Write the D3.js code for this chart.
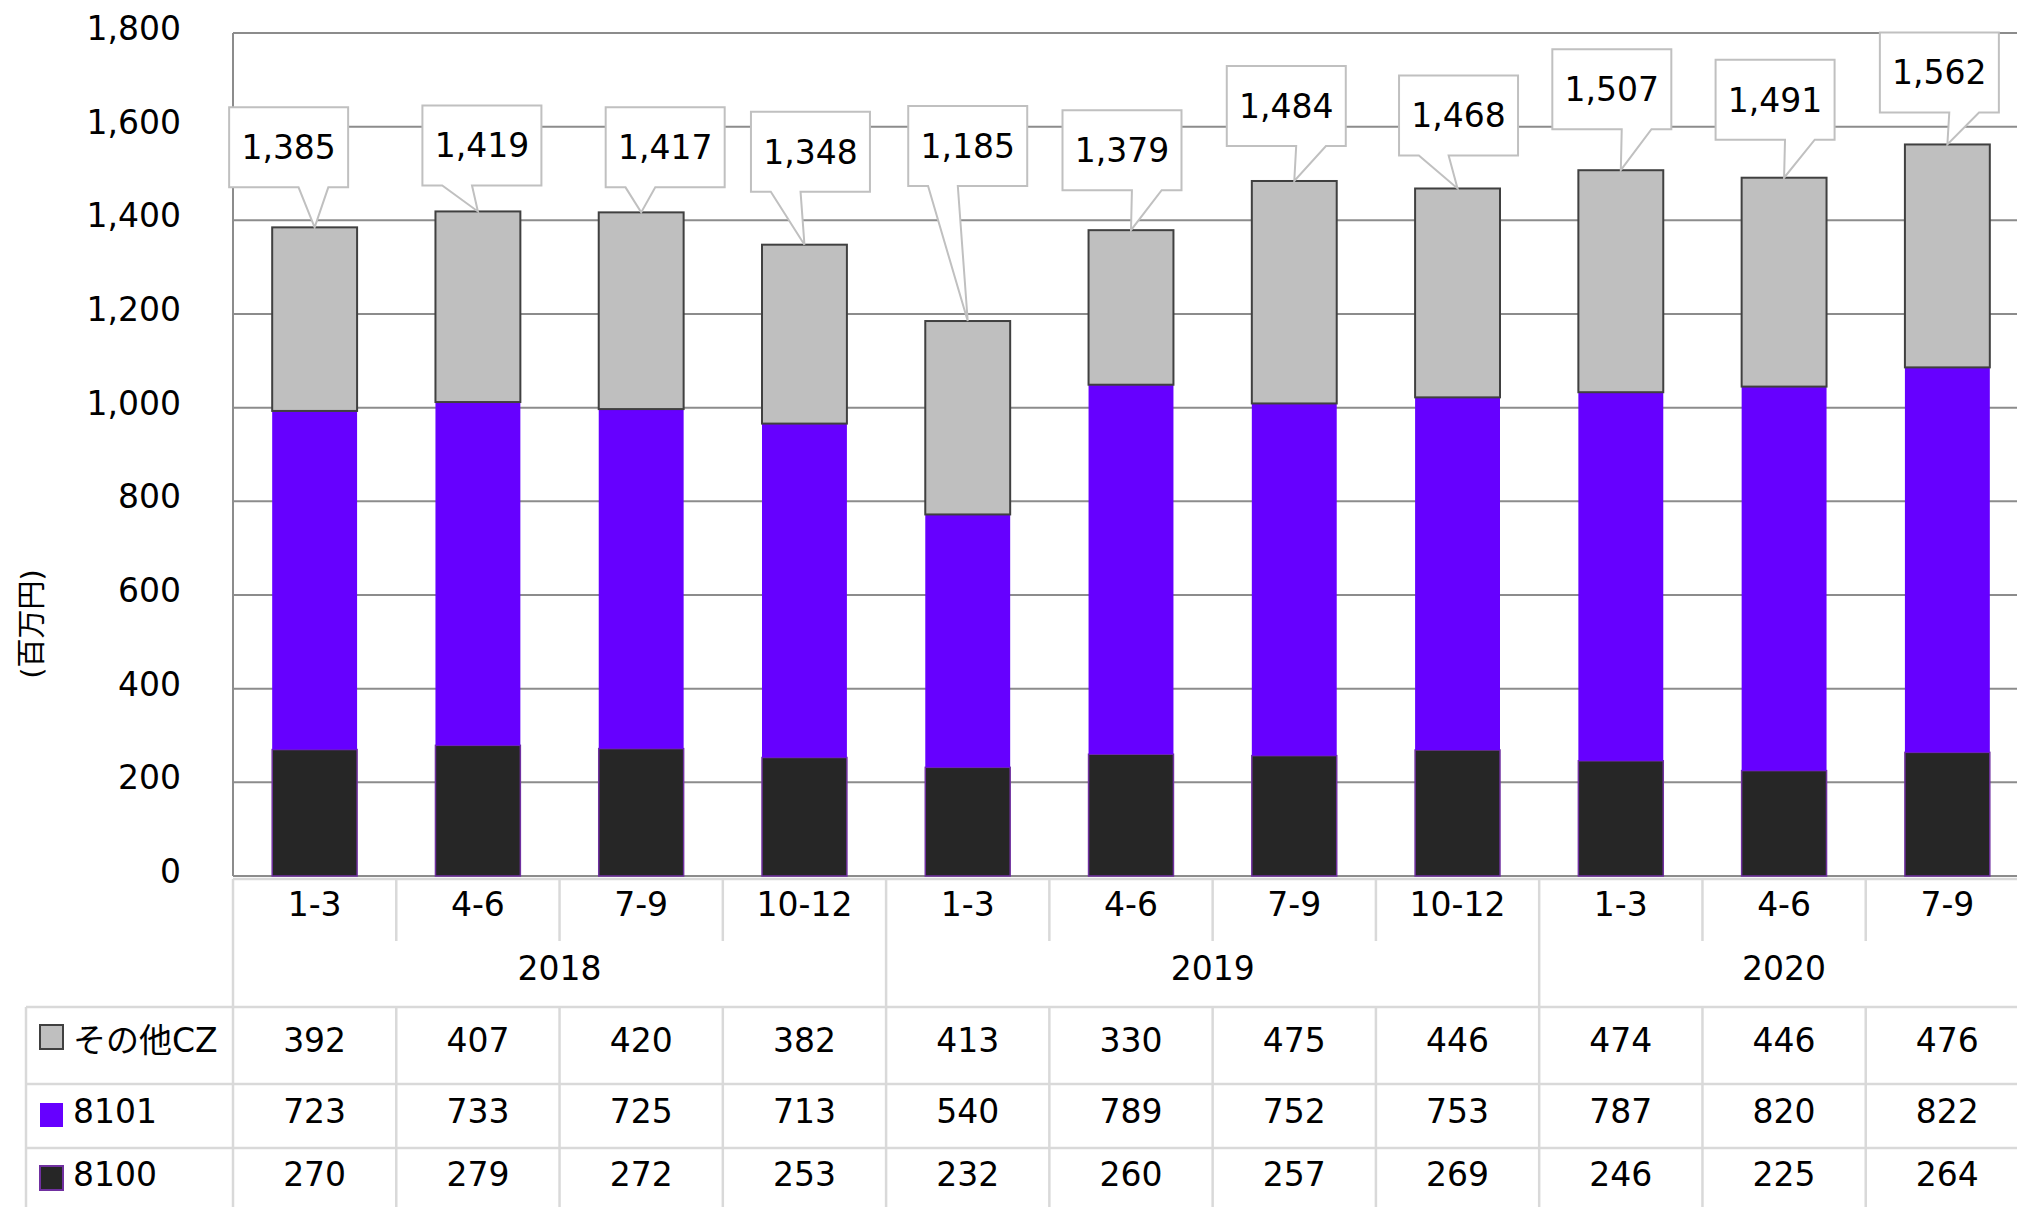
<!DOCTYPE html>
<html>
<head>
<meta charset="utf-8">
<script src="https://cdn.jsdelivr.net/npm/d3@7"></script>
<style>
body { margin: 0; background: #fff; }
text { font-family: "DejaVu Sans", "Noto Sans CJK JP", sans-serif; fill: #000; }
</style>
</head>
<body>
<script>
// Data
var quarters = ['1-3', '4-6', '7-9', '10-12', '1-3', '4-6', '7-9', '10-12', '1-3', '4-6', '7-9'];
var years = ['2018', '2019', '2020'];
var yearSpan = [4, 4, 3];
var seriesNames = ['その他CZ', '8101', '8100'];
var otherCZ = [392, 407, 420, 382, 413, 330, 475, 446, 474, 446, 476];
var s8101 = [723, 733, 725, 713, 540, 789, 752, 753, 787, 820, 822];
var s8100 = [270, 279, 272, 253, 232, 260, 257, 269, 246, 225, 264];
var yTicks = [0, 200, 400, 600, 800, 1000, 1200, 1400, 1600, 1800];

// callout layout: shift of box from bar centre, gap above bar top (px)
var calloutDx = [-26, 4, 24, 6, 0, -9, -8, 1, -9, -9, -8];
var calloutGap = [40, 26, 25, 53, 135, 40, 35, 33, 41, 38, 32];

var W = 2017, H = 1207;
var svg = d3.select("body").append("svg")
    .attr("width", W).attr("height", H);

var rows = quarters.map(function(q, i) {
    return {i: i, v8100: s8100[i], v8101: s8101[i], other: otherCZ[i]};
});
var stack = d3.stack().keys(['v8100', 'v8101', 'other'])(rows);

var x = d3.scaleBand().domain(d3.range(quarters.length))
    .range([233, 2029]).paddingInner(0.48).paddingOuter(0.24);
var step = x.step(), x0 = 233;
var y = d3.scaleLinear().domain([0, 1800]).range([876, 33]);

var fills = {v8100: '#262626', v8101: '#6600ff', other: '#bfbfbf'};
var strokes = {v8100: '#7030a0', v8101: 'none', other: '#404040'};

// gridlines
svg.append("g").selectAll("line").data(yTicks).enter().append("line")
    .attr("x1", x0).attr("x2", W)
    .attr("y1", function(d) { return y(d); }).attr("y2", function(d) { return y(d); })
    .style("stroke", "#8c8c8c").style("stroke-width", 2);
svg.append("line").attr("x1", x0).attr("x2", x0).attr("y1", y(1800)).attr("y2", y(0))
    .style("stroke", "#8c8c8c").style("stroke-width", 2);

// tick labels
svg.append("g").selectAll("text").data(yTicks).enter().append("text")
    .attr("x", 181).attr("y", function(d) { return y(d) + 7; })
    .attr("text-anchor", "end").style("font-size", "33px")
    .text(function(d) { return d3.format(",")(d); });

svg.append("text")
    .attr("transform", "translate(42,624) rotate(-90)")
    .attr("text-anchor", "middle").style("font-size", "29px")
    .text("(百万円)");

// bars
svg.append("g").selectAll("g").data(stack).enter().append("g")
    .style("fill", function(d) { return fills[d.key]; })
    .style("stroke", function(d) { return strokes[d.key]; })
    .style("stroke-width", function(d) { return d.key == 'other' ? 2 : 1.5; })
  .selectAll("rect").data(function(d) { return d; }).enter().append("rect")
    .attr("x", function(d) { return x(d.data.i); })
    .attr("width", x.bandwidth())
    .attr("y", function(d) { return y(d[1]); })
    .attr("height", function(d) { return y(d[0]) - y(d[1]); });

// callouts
var bw = 119, bh = 80;
var callouts = svg.append("g").selectAll("g").data(rows).enter().append("g");
callouts.append("path")
    .attr("d", function(d) {
        var total = d.v8100 + d.v8101 + d.other;
        var tx = x(d.i) + x.bandwidth() / 2, ty = y(total);
        var cx = tx + calloutDx[d.i];
        var L = cx - bw / 2, R = cx + bw / 2, B = ty - calloutGap[d.i], T = B - bh;
        var b1, b2;
        if (tx > cx) { b1 = L + bw * 7 / 12; b2 = L + bw * 10 / 12; }
        else { b1 = L + bw * 2 / 12; b2 = L + bw * 5 / 12; }
        return "M" + L + "," + T + "H" + R + "V" + B + "H" + b2 + "L" + tx + "," + ty +
               "L" + b1 + "," + B + "H" + L + "Z";
    })
    .style("fill", "#fff").style("stroke", "#c0c0c0").style("stroke-width", 2);
callouts.append("text")
    .attr("x", function(d) { return x(d.i) + x.bandwidth() / 2 + calloutDx[d.i]; })
    .attr("y", function(d) {
        var total = d.v8100 + d.v8101 + d.other;
        return y(total) - calloutGap[d.i] - bh / 2 + 12;
    })
    .attr("text-anchor", "middle").style("font-size", "33px")
    .text(function(d) { return d3.format(",")(d.v8100 + d.v8101 + d.other); });

// data table
var tableColor = "#d9d9d9";
var table = svg.append("g").style("stroke", tableColor).style("stroke-width", 2.5);
table.append("line").attr("x1", x0).attr("x2", W).attr("y1", 879).attr("y2", 879);
[1007, 1084, 1148].forEach(function(yy) {
    table.append("line").attr("x1", 26).attr("x2", W).attr("y1", yy).attr("y2", yy);
});
table.append("line").attr("x1", 26).attr("x2", 26).attr("y1", 1007).attr("y2", H);
var yearStarts = [0];
yearSpan.forEach(function(n, k) { yearStarts.push(yearStarts[k] + n); });
d3.range(quarters.length + 1).forEach(function(i) {
    var xx = x0 + i * step;
    if (yearStarts.indexOf(i) >= 0) {
        table.append("line").attr("x1", xx).attr("x2", xx).attr("y1", 879).attr("y2", H);
    } else {
        table.append("line").attr("x1", xx).attr("x2", xx).attr("y1", 879).attr("y2", 941);
        table.append("line").attr("x1", xx).attr("x2", xx).attr("y1", 1007).attr("y2", H);
    }
});

svg.append("g").selectAll("text").data(quarters).enter().append("text")
    .attr("x", function(d, i) { return x0 + (i + 0.5) * step; })
    .attr("y", 916).attr("text-anchor", "middle").style("font-size", "33px")
    .text(function(d) { return d; });

svg.append("g").selectAll("text").data(years).enter().append("text")
    .attr("x", function(d, k) { return x0 + (yearStarts[k] + yearSpan[k] / 2) * step; })
    .attr("y", 980).attr("text-anchor", "middle").style("font-size", "33px")
    .text(function(d) { return d; });

var tableRows = [otherCZ, s8101, s8100];
var rowY = [1052, 1123, 1186];
var swatchY = [1025, 1103, 1166];
var swatchFill = ['#bfbfbf', '#6600ff', '#262626'];
var swatchStroke = ['#404040', 'none', '#7030a0'];
tableRows.forEach(function(vals, r) {
    svg.append("g").selectAll("text").data(vals).enter().append("text")
        .attr("x", function(d, i) { return x0 + (i + 0.5) * step; })
        .attr("y", rowY[r]).attr("text-anchor", "middle").style("font-size", "33px")
        .text(function(d) { return d; });
    svg.append("rect").attr("x", 40).attr("y", swatchY[r]).attr("width", 23).attr("height", 24)
        .style("fill", swatchFill[r]).style("stroke", swatchStroke[r]).style("stroke-width", 2);
    svg.append("text").attr("x", 73).attr("y", rowY[r])
        .style("font-size", "33px").text(seriesNames[r]);
});
</script>
</body>
</html>
